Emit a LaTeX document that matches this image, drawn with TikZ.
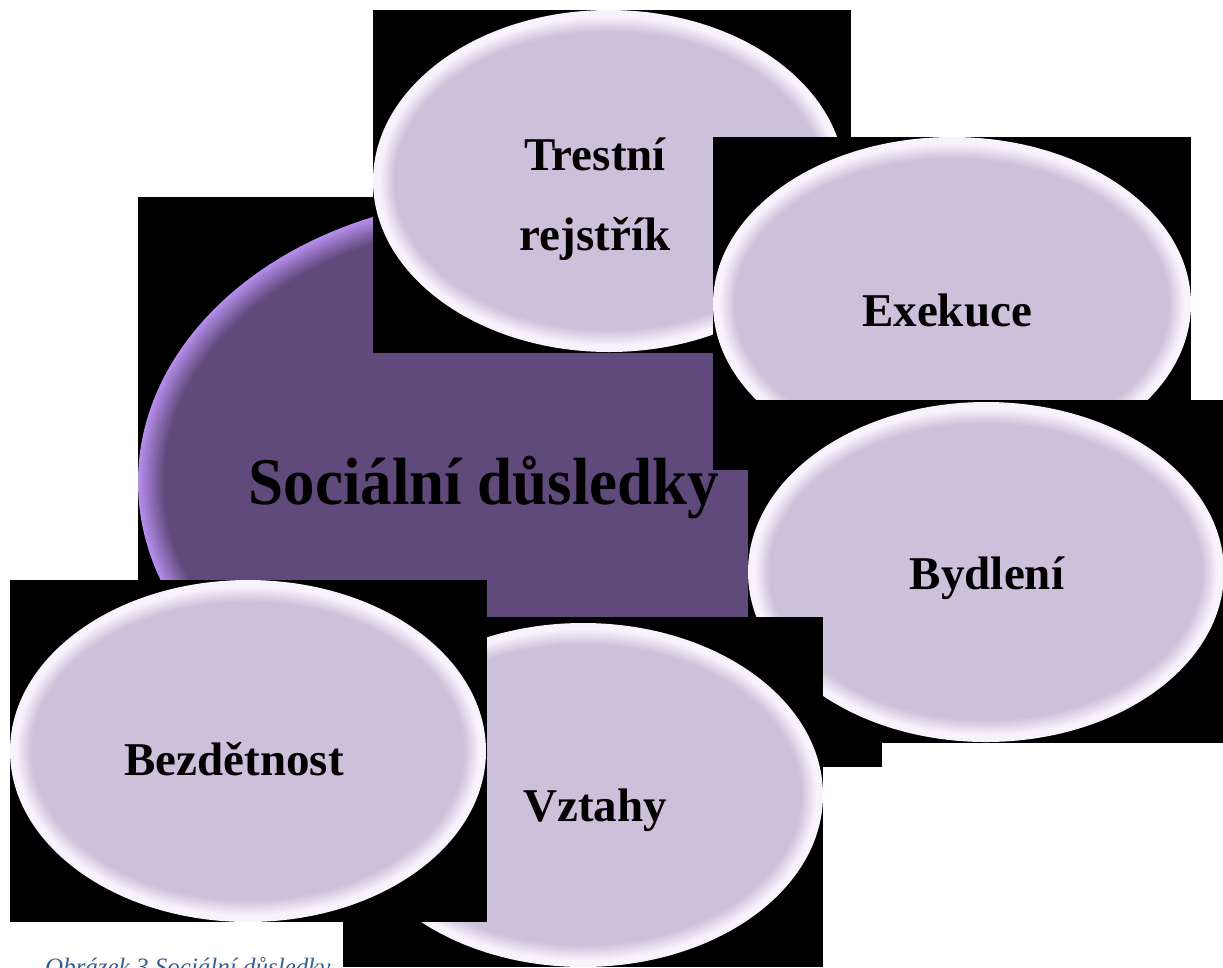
\documentclass[tikz,border=0pt]{standalone}
\usepackage{fontspec}
\setmainfont{Liberation Serif}
\usetikzlibrary{shapes.geometric}

\definecolor{smartpurple}{RGB}{96,74,123}
\definecolor{bigrim}{RGB}{182,142,236}
\definecolor{lavender}{RGB}{204,192,218}
\definecolor{rimwhite}{RGB}{251,245,255}
\definecolor{captionblue}{RGB}{54,95,145}

\begin{document}
\begin{tikzpicture}[x=1pt, y=1pt,
        label/.style={inner sep=0, anchor=base, font=\fontsize{47}{80}\selectfont\bfseries},
        caption/.style={inner sep=0, anchor=base west, text=captionblue, font=\fontsize{25}{28}\selectfont\itshape}]
        \useasboundingbox (0,0) rectangle (1223,-967);
        \clip (0,0) rectangle (1223,-967);
        \fill[white] (0,0) rectangle (1223,-967);

        % central shape
        \fill[black] (138,-197) rectangle (882,-767);
        \foreach \d in {0,1,...,26} {
            \pgfmathsetmacro\p{min(100,\d*100/26)}
            \fill[smartpurple!\p!bigrim] (510,-482) ellipse [x radius=372-\d, y radius=285-\d];
        }

        % outer shapes: box, then ellipse with light rim
        \foreach \rl/\rt/\rr/\rb/\cx/\cy/\rx/\ry in {373/10/851/353/609/181/236/171, 713/137/1191/470/952/304/239/167, 748/400/1224/743/986/572/238/170, 343/617/823/967/583/795/240/172, 10/580/487/922/248/751/238/171} {
            \fill[black] (\rl,-\rt) rectangle (\rr,-\rb);
            \foreach \d in {0,1,...,24} {
                \pgfmathsetmacro\p{min(100,max(6,(\d-5)*100/17))}
                \fill[lavender!\p!rimwhite] (\cx,-\cy) ellipse [x radius=\rx-\d, y radius=\ry-\d];
            }
        }

        \node[inner sep=0, anchor=base] (center) at (484,-504) {\fontsize{63}{70}\selectfont\bfseries\scalebox{1}[1.06]{Sociální důsledky}};
        \node[label, anchor=center, align=center] (trestni) at (595,-199) {Trestní\\rejstřík};
        \node[label] (exekuce) at (947,-326) {Exekuce};
        \node[label] (bydleni) at (987,-589) {Bydlení};
        \node[label] (vztahy) at (595,-821) {Vztahy};
        \node[label] (bezdetnost) at (234,-775) {Bezdětnost};

        \node[caption] (obrazek) at (45,-975) {Obrázek 3 Sociální důsledky};
    \end{tikzpicture}
\end{document}
